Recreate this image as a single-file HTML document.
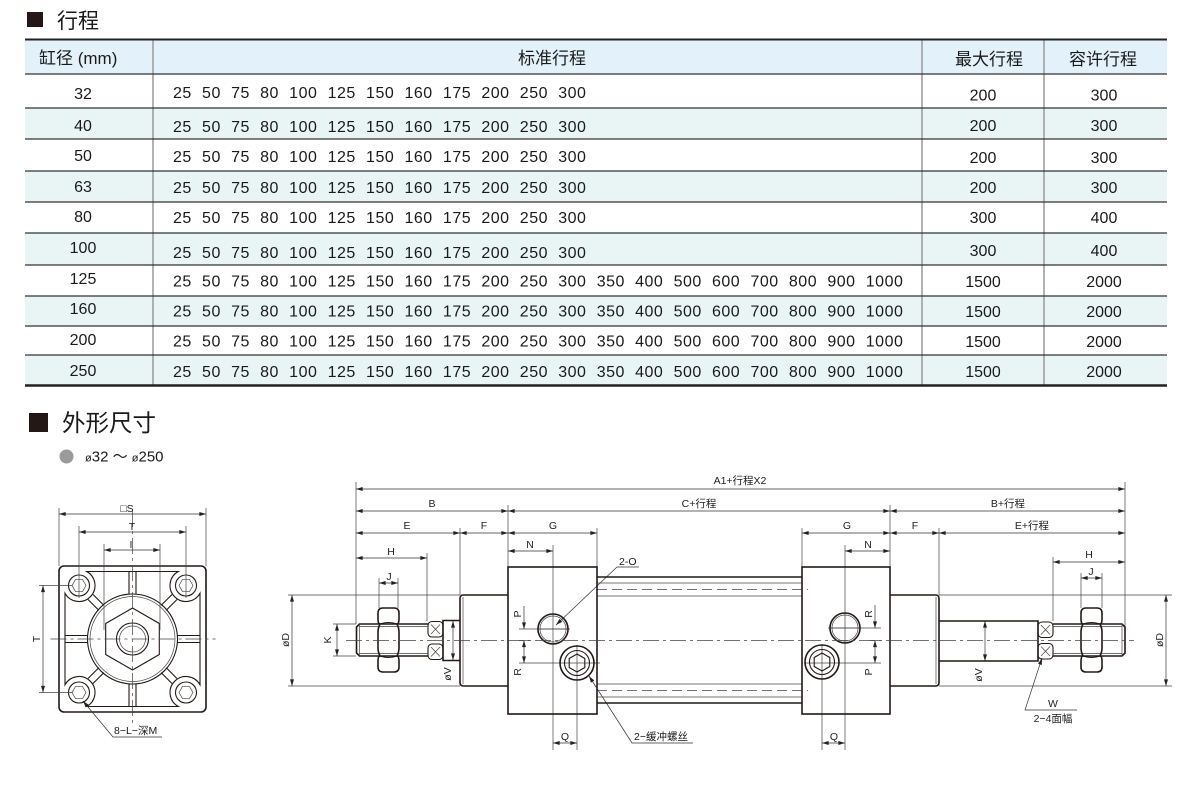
<!DOCTYPE html>
<html><head><meta charset="utf-8">
<style>
html,body{margin:0;padding:0;background:#fff;}
svg{display:block;}
text{font-family:"Liberation Sans","Noto Sans CJK SC",sans-serif;fill:#1a1a1a;}
.n{font-size:16px;letter-spacing:0.5px;word-spacing:5.3px;}
.c{font-size:16px;text-anchor:middle;}
.h{font-size:17px;}
.l{font-size:10.5px;text-anchor:middle;fill:#222;}
.o{stroke:#231815;stroke-width:1.6;fill:none;}
.m{stroke:#231815;stroke-width:1.1;fill:none;}
.t{stroke:#444;stroke-width:0.7;fill:none;}
.d{stroke:#333;stroke-width:0.7;fill:none;}
.cl{stroke:#444;stroke-width:0.7;fill:none;stroke-dasharray:16 4 3 4;}
.ds{stroke:#444;stroke-width:0.7;fill:none;stroke-dasharray:10 5;}
</style></head><body>
<svg width="1200" height="785" viewBox="0 0 1200 785" xmlns="http://www.w3.org/2000/svg">
<defs>
<marker id="a" viewBox="0 0 10 6" refX="10" refY="3" markerWidth="7" markerHeight="4" orient="auto-start-reverse" markerUnits="userSpaceOnUse">
<path d="M0,0 L10,3 L0,6 z" fill="#222"/>
</marker>
</defs>

<!-- ===== Title 1 ===== -->
<rect x="27" y="12" width="16" height="15" fill="#231815"/>
<text x="57" y="28" style="font-size:21px">行程</text>

<!-- ===== Table ===== -->
<rect x="25" y="40" width="1142" height="34" fill="#e3f2fa"/>
<rect x="25" y="108" width="1142" height="31" fill="#e8f5f4"/>
<rect x="25" y="171" width="1142" height="31" fill="#e8f5f4"/>
<rect x="25" y="233" width="1142" height="32" fill="#e8f5f4"/>
<rect x="25" y="296" width="1142" height="30" fill="#e8f5f4"/>
<rect x="25" y="355" width="1142" height="30" fill="#e8f5f4"/>

<g stroke="#999" stroke-width="1.5">
<line x1="153" y1="40" x2="153" y2="385"/>
<line x1="922" y1="40" x2="922" y2="385"/>
<line x1="1044" y1="40" x2="1044" y2="385"/>
</g>
<line x1="25" y1="39.5" x2="1167" y2="39.5" stroke="#222" stroke-width="2"/>
<g stroke="#333" stroke-width="1.3">
<line x1="25" y1="74" x2="1167" y2="74"/>
<line x1="25" y1="108" x2="1167" y2="108"/>
<line x1="25" y1="139" x2="1167" y2="139"/>
<line x1="25" y1="171" x2="1167" y2="171"/>
<line x1="25" y1="202" x2="1167" y2="202"/>
<line x1="25" y1="233" x2="1167" y2="233"/>
<line x1="25" y1="265" x2="1167" y2="265"/>
<line x1="25" y1="296" x2="1167" y2="296"/>
<line x1="25" y1="326" x2="1167" y2="326"/>
<line x1="25" y1="355" x2="1167" y2="355"/>
</g>
<line x1="25" y1="385.5" x2="1167" y2="385.5" stroke="#222" stroke-width="2.5"/>

<text class="h" x="39" y="64">缸径 (mm)</text>
<text class="h" x="552" y="64" text-anchor="middle">标准行程</text>
<text class="h" x="989" y="65" text-anchor="middle">最大行程</text>
<text class="h" x="1103" y="65" text-anchor="middle">容许行程</text>

<text class="c" x="83" y="99">32</text>
<text class="c" x="83" y="131">40</text>
<text class="c" x="83" y="161">50</text>
<text class="c" x="83" y="192">63</text>
<text class="c" x="83" y="222">80</text>
<text class="c" x="83" y="253">100</text>
<text class="c" x="83" y="284">125</text>
<text class="c" x="83" y="314">160</text>
<text class="c" x="83" y="345">200</text>
<text class="c" x="83" y="376">250</text>

<text class="n" x="173" y="98">25 50 75 80 100 125 150 160 175 200 250 300</text>
<text class="n" x="173" y="132">25 50 75 80 100 125 150 160 175 200 250 300</text>
<text class="n" x="173" y="162">25 50 75 80 100 125 150 160 175 200 250 300</text>
<text class="n" x="173" y="193">25 50 75 80 100 125 150 160 175 200 250 300</text>
<text class="n" x="173" y="223">25 50 75 80 100 125 150 160 175 200 250 300</text>
<text class="n" x="173" y="258">25 50 75 80 100 125 150 160 175 200 250 300</text>
<text class="n" x="173" y="286.5">25 50 75 80 100 125 150 160 175 200 250 300 350 400 500 600 700 800 900 1000</text>
<text class="n" x="173" y="316.5">25 50 75 80 100 125 150 160 175 200 250 300 350 400 500 600 700 800 900 1000</text>
<text class="n" x="173" y="346.5">25 50 75 80 100 125 150 160 175 200 250 300 350 400 500 600 700 800 900 1000</text>
<text class="n" x="173" y="377">25 50 75 80 100 125 150 160 175 200 250 300 350 400 500 600 700 800 900 1000</text>

<g class="c">
<text class="c" x="983" y="100.5">200</text><text class="c" x="1104" y="100.5">300</text>
<text class="c" x="983" y="131">200</text><text class="c" x="1104" y="131">300</text>
<text class="c" x="983" y="163">200</text><text class="c" x="1104" y="163">300</text>
<text class="c" x="983" y="193">200</text><text class="c" x="1104" y="193">300</text>
<text class="c" x="983" y="223">300</text><text class="c" x="1104" y="223">400</text>
<text class="c" x="983" y="256">300</text><text class="c" x="1104" y="256">400</text>
<text class="c" x="983" y="287">1500</text><text class="c" x="1104" y="287">2000</text>
<text class="c" x="983" y="317">1500</text><text class="c" x="1104" y="317">2000</text>
<text class="c" x="983" y="347">1500</text><text class="c" x="1104" y="347">2000</text>
<text class="c" x="983" y="377">1500</text><text class="c" x="1104" y="377">2000</text>
</g>

<!-- ===== Title 2 ===== -->
<rect x="29" y="413" width="19" height="19" fill="#231815"/>
<text x="62" y="431" style="font-size:23.5px">外形尺寸</text>
<circle cx="66.5" cy="456.5" r="7" fill="#9a9a9a"/>
<text x="85" y="461.5" style="font-size:15px"><tspan style="font-size:11px">ø</tspan>32 ～ <tspan style="font-size:11px">ø</tspan>250</text>

<!-- ===== Left end view ===== -->
<g transform="translate(132.5,639)">
<rect x="-73.5" y="-73" width="147" height="146" rx="5" class="o" stroke-width="2"/>
<path class="m" d="M -45.75,-67.5 L 45.75,-67.5 A16 16 0 1 0 67.5,-45.75 L 67.5,45.75 A16 16 0 1 0 45.75,67.5 L -45.75,67.5 A16 16 0 1 0 -67.5,45.75 L -67.5,-45.75 A16 16 0 1 0 -45.75,-67.5 Z"/>
<g class="m">
<circle cx="-53.5" cy="-53.5" r="10.5"/><circle cx="53.5" cy="-53.5" r="10.5"/>
<circle cx="-53.5" cy="53.5" r="10.5"/><circle cx="53.5" cy="53.5" r="10.5"/>
</g>
<g class="t" stroke-width="0.9">
<polygon transform="translate(-53.5,-53.5)" points="7,0 3.5,6.06 -3.5,6.06 -7,0 -3.5,-6.06 3.5,-6.06"/>
<polygon transform="translate(53.5,-53.5)" points="7,0 3.5,6.06 -3.5,6.06 -7,0 -3.5,-6.06 3.5,-6.06"/>
<polygon transform="translate(-53.5,53.5)" points="7,0 3.5,6.06 -3.5,6.06 -7,0 -3.5,-6.06 3.5,-6.06"/>
<polygon transform="translate(53.5,53.5)" points="7,0 3.5,6.06 -3.5,6.06 -7,0 -3.5,-6.06 3.5,-6.06"/>
</g>
<circle r="45" class="m"/>
<circle r="42.5" class="t"/>
<polygon class="m" points="0,-31 26.8,-15.5 26.8,15.5 0,31 -26.8,15.5 -26.8,-15.5"/>
<circle r="16" class="m"/>
<circle r="13" class="t"/>
<g class="m" stroke-width="0.9">
<line x1="-3.5" y1="-67.5" x2="-3.5" y2="-45"/><line x1="3.5" y1="-67.5" x2="3.5" y2="-45"/>
<line x1="-3.5" y1="67.5" x2="-3.5" y2="45"/><line x1="3.5" y1="67.5" x2="3.5" y2="45"/>
<line y1="-3.5" x1="-67.5" y2="-3.5" x2="-45"/><line y1="3.5" x1="-67.5" y2="3.5" x2="-45"/>
<line y1="-3.5" x1="67.5" y2="-3.5" x2="45"/><line y1="3.5" x1="67.5" y2="3.5" x2="45"/>
<line x1="-28.6" y1="-33.6" x2="-39.5" y2="-44.5"/><line x1="-33.6" y1="-28.6" x2="-44.5" y2="-39.5"/>
<line x1="28.6" y1="-33.6" x2="39.5" y2="-44.5"/><line x1="33.6" y1="-28.6" x2="44.5" y2="-39.5"/>
<line x1="-28.6" y1="33.6" x2="-39.5" y2="44.5"/><line x1="-33.6" y1="28.6" x2="-44.5" y2="39.5"/>
<line x1="28.6" y1="33.6" x2="39.5" y2="44.5"/><line x1="33.6" y1="28.6" x2="44.5" y2="39.5"/>
</g>
<line class="cl" x1="-82" y1="0" x2="83" y2="0"/>
<line class="cl" x1="0" y1="-128" x2="0" y2="84"/>
</g>
<!-- left view dims -->
<g class="t">
<line x1="59" y1="508" x2="59" y2="566"/><line x1="206" y1="508" x2="206" y2="566"/>
<line x1="79" y1="526" x2="79" y2="598"/><line x1="186" y1="526" x2="186" y2="598"/>
<line x1="104" y1="544" x2="104" y2="630"/><line x1="160" y1="544" x2="160" y2="630"/>
<line x1="39" y1="585.5" x2="72" y2="585.5"/><line x1="39" y1="692.5" x2="72" y2="692.5"/>
</g>
<g class="d">
<line x1="59" y1="514" x2="206" y2="514" marker-start="url(#a)" marker-end="url(#a)"/>
<line x1="79" y1="532" x2="186" y2="532" marker-start="url(#a)" marker-end="url(#a)"/>
<line x1="104" y1="550" x2="160" y2="550" marker-start="url(#a)" marker-end="url(#a)"/>
<line x1="43" y1="585.5" x2="43" y2="692.5" marker-start="url(#a)" marker-end="url(#a)"/>
<polyline points="83,701 113,737 162,737" marker-start="url(#a)"/>
</g>
<text class="l" x="127" y="512">□S</text>
<text class="l" x="132" y="530">T</text>
<text class="l" x="131" y="548">I</text>
<text class="l" transform="translate(40,639) rotate(-90)">T</text>
<text x="114" y="734" style="font-size:10.5px">8−L−深M</text>

<!-- ===== Main side view ===== -->
<!-- extension lines -->
<g class="t">
<line x1="356" y1="482" x2="356" y2="624"/>
<line x1="508" y1="505" x2="508" y2="567"/>
<line x1="460" y1="528" x2="460" y2="595"/>
<line x1="597" y1="528" x2="597" y2="567"/>
<line x1="427" y1="553" x2="427" y2="621"/>
<line x1="379" y1="578" x2="379" y2="608"/><line x1="398" y1="578" x2="398" y2="608"/>
<line x1="553" y1="545" x2="553" y2="750"/>
<line x1="577" y1="645" x2="577" y2="750"/>
<line x1="802" y1="528" x2="802" y2="567"/>
<line x1="890" y1="505" x2="890" y2="567"/>
<line x1="845" y1="545" x2="845" y2="750"/>
<line x1="822" y1="645" x2="822" y2="750"/>
<line x1="939" y1="528" x2="939" y2="595"/>
<line x1="1053" y1="557" x2="1053" y2="621"/>
<line x1="1081" y1="573" x2="1081" y2="608"/><line x1="1102" y1="573" x2="1102" y2="608"/>
<line x1="1125" y1="482" x2="1125" y2="640"/>
<line x1="288" y1="595" x2="460" y2="595"/><line x1="288" y1="686" x2="460" y2="686"/>
<line x1="939" y1="595" x2="1172" y2="595"/><line x1="939" y1="686" x2="1172" y2="686"/>
<line x1="333" y1="624" x2="356" y2="624"/><line x1="333" y1="656" x2="356" y2="656"/>
<line x1="519" y1="629" x2="570" y2="629"/><line x1="519" y1="663" x2="600" y2="663"/>
<line x1="828" y1="628" x2="881" y2="628"/><line x1="805" y1="663" x2="881" y2="663"/>
<line x1="519" y1="640.5" x2="530" y2="640.5"/><line x1="870" y1="640.5" x2="881" y2="640.5"/>
</g>

<!-- dimension lines -->
<g class="d">
<line x1="356" y1="489" x2="1125" y2="489" marker-start="url(#a)" marker-end="url(#a)"/>
<line x1="356" y1="511" x2="508" y2="511" marker-start="url(#a)" marker-end="url(#a)"/>
<line x1="508" y1="511" x2="890" y2="511" marker-start="url(#a)" marker-end="url(#a)"/>
<line x1="890" y1="511" x2="1125" y2="511" marker-start="url(#a)" marker-end="url(#a)"/>
<line x1="356" y1="533" x2="460" y2="533" marker-start="url(#a)" marker-end="url(#a)"/>
<line x1="460" y1="533" x2="508" y2="533" marker-start="url(#a)" marker-end="url(#a)"/>
<line x1="508" y1="533" x2="597" y2="533" marker-start="url(#a)" marker-end="url(#a)"/>
<line x1="802" y1="533" x2="890" y2="533" marker-start="url(#a)" marker-end="url(#a)"/>
<line x1="890" y1="533" x2="939" y2="533" marker-start="url(#a)" marker-end="url(#a)"/>
<line x1="939" y1="533" x2="1125" y2="533" marker-start="url(#a)" marker-end="url(#a)"/>
<line x1="508" y1="551" x2="553" y2="551" marker-start="url(#a)" marker-end="url(#a)"/>
<line x1="845" y1="551" x2="890" y2="551" marker-start="url(#a)" marker-end="url(#a)"/>
<line x1="356" y1="558" x2="427" y2="558" marker-start="url(#a)" marker-end="url(#a)"/>
<line x1="1053" y1="562" x2="1125" y2="562" marker-start="url(#a)" marker-end="url(#a)"/>
<line x1="379" y1="583" x2="398" y2="583" marker-start="url(#a)" marker-end="url(#a)"/>
<line x1="1081" y1="578" x2="1102" y2="578" marker-start="url(#a)" marker-end="url(#a)"/>
<line x1="337" y1="624" x2="337" y2="656" marker-start="url(#a)" marker-end="url(#a)"/>
<line x1="292" y1="595" x2="292" y2="686" marker-start="url(#a)" marker-end="url(#a)"/>
<line x1="1166" y1="595" x2="1166" y2="686" marker-start="url(#a)" marker-end="url(#a)"/>
<line x1="453" y1="621" x2="453" y2="660" marker-start="url(#a)" marker-end="url(#a)"/>
<line x1="985" y1="621" x2="985" y2="661" marker-start="url(#a)" marker-end="url(#a)"/>
<line x1="524" y1="606" x2="524" y2="629" marker-end="url(#a)"/>
<line x1="524" y1="640.5" x2="524" y2="663" marker-start="url(#a)" marker-end="url(#a)"/>
<line x1="875" y1="605" x2="875" y2="628" marker-end="url(#a)"/>
<line x1="875" y1="640.5" x2="875" y2="663" marker-start="url(#a)" marker-end="url(#a)"/>
<line x1="553" y1="743" x2="577" y2="743" marker-start="url(#a)" marker-end="url(#a)"/>
<line x1="822" y1="743" x2="845" y2="743" marker-start="url(#a)" marker-end="url(#a)"/>
<polyline points="556,625 617,567 639,567" marker-start="url(#a)"/>
<polyline points="589,676 632,743 693,743" marker-start="url(#a)"/>
<polyline points="1042,658 1025,710 1077,710" marker-start="url(#a)"/>
</g>

<!-- dim labels -->
<text class="l" x="740" y="484">A1+行程X2</text>
<text class="l" x="432" y="507">B</text>
<text class="l" x="699" y="507">C+行程</text>
<text class="l" x="1008" y="507">B+行程</text>
<text class="l" x="407" y="529">E</text>
<text class="l" x="484" y="529">F</text>
<text class="l" x="553" y="529">G</text>
<text class="l" x="847" y="529">G</text>
<text class="l" x="915" y="529">F</text>
<text class="l" x="1032" y="529">E+行程</text>
<text class="l" x="530" y="548">N</text>
<text class="l" x="868" y="548">N</text>
<text class="l" x="391" y="555">H</text>
<text class="l" x="1089" y="558">H</text>
<text class="l" x="389" y="580">J</text>
<text class="l" x="1091" y="575">J</text>
<text class="l" transform="translate(331,640) rotate(-90)">K</text>
<text class="l" transform="translate(289,640) rotate(-90)">øD</text>
<text class="l" transform="translate(1163,640) rotate(-90)">øD</text>
<text class="l" transform="translate(451,674) rotate(-90)">øV</text>
<text class="l" transform="translate(982,675) rotate(-90)">øV</text>
<text class="l" transform="translate(521,614) rotate(-90)">P</text>
<text class="l" transform="translate(521,672) rotate(-90)">R</text>
<text class="l" transform="translate(872,614) rotate(-90)">R</text>
<text class="l" transform="translate(872,672) rotate(-90)">P</text>
<text class="l" x="565" y="740">Q</text>
<text class="l" x="834" y="740">Q</text>
<text x="619" y="565" style="font-size:10.5px">2-O</text>
<text x="634" y="740" style="font-size:10.5px">2−缓冲螺丝</text>
<text class="l" x="1053" y="707">W</text>
<text class="l" x="1053" y="722">2−4面幅</text>

<!-- tube -->
<g>
<line class="o" x1="597" y1="577" x2="802" y2="577"/>
<line class="t" x1="597" y1="583" x2="802" y2="583"/>
<line class="ds" x1="597" y1="589.5" x2="808" y2="589.5"/>
<line class="t" x1="597" y1="596" x2="802" y2="596"/>
<line class="t" x1="597" y1="684" x2="802" y2="684"/>
<line class="ds" x1="597" y1="690.5" x2="808" y2="690.5"/>
<line class="t" x1="597" y1="697" x2="802" y2="697"/>
<line class="o" x1="597" y1="703" x2="802" y2="703"/>
</g>

<!-- blocks -->
<rect class="o" x="508" y="567" width="89" height="147"/>
<rect class="o" x="802" y="567" width="88" height="147"/>

<!-- covers -->
<path class="o" d="M508,595 L463.5,595 Q460,595 460,598.5 L460,682.5 Q460,686 463.5,686 L508,686"/>
<line class="t" x1="463" y1="597" x2="463" y2="684"/>
<path class="o" d="M890,595 L935.5,595 Q939,595 939,598.5 L939,682.5 Q939,686 935.5,686 L890,686"/>
<line class="t" x1="936" y1="597" x2="936" y2="684"/>

<!-- left rod -->
<path class="o" d="M460,620.5 L443,620.5 L443,660.5 L460,660.5"/>
<rect class="m" x="428" y="621.5" width="15" height="15.5" rx="4"/>
<rect class="m" x="428" y="644" width="15" height="15.5" rx="4"/>
<g class="t" stroke-width="0.8">
<line x1="431" y1="624.5" x2="440" y2="634"/><line x1="440" y1="624.5" x2="431" y2="634"/>
<line x1="431" y1="647" x2="440" y2="656.5"/><line x1="440" y1="647" x2="431" y2="656.5"/>
</g>
<path class="o" d="M428,624 L359.5,624 L356.5,627 L356.5,653 L359.5,656 L428,656"/>
<line class="t" x1="359.5" y1="626.5" x2="428" y2="626.5"/>
<line class="t" x1="359.5" y1="653.5" x2="428" y2="653.5"/>
<line class="t" x1="359.5" y1="624" x2="359.5" y2="656"/>
<!-- left nut -->
<path class="o" fill="#fff" d="M383,608 L394,608 Q399,608 399,613 L399,619 Q399,624 397,624 Q399,628 399,632 L399,648 Q399,652 397,656 Q399,656 399,661 L399,667 Q399,672 394,672 L383,672 Q378,672 378,667 L378,661 Q378,656 380,656 Q378,652 378,648 L378,632 Q378,628 380,624 Q378,624 378,619 L378,613 Q378,608 383,608 Z"/>
<path class="m" d="M380,624 Q388.5,621 397,624 M380,656 Q388.5,659 397,656"/>

<!-- right rod -->
<path class="o" d="M939,621 L1038,621 L1038,661 L939,661"/>
<rect class="m" x="1038" y="622" width="15" height="15.5" rx="4"/>
<rect class="m" x="1038" y="643.5" width="15" height="15.5" rx="4"/>
<g class="t" stroke-width="0.8">
<line x1="1041" y1="625" x2="1050" y2="634.5"/><line x1="1050" y1="625" x2="1041" y2="634.5"/>
<line x1="1041" y1="646.5" x2="1050" y2="656"/><line x1="1050" y1="646.5" x2="1041" y2="656"/>
</g>
<path class="o" d="M1053,624 L1122,624 L1125,627 L1125,653 L1122,656 L1053,656"/>
<line class="t" x1="1053" y1="626.5" x2="1122" y2="626.5"/>
<line class="t" x1="1053" y1="653.5" x2="1122" y2="653.5"/>
<line class="t" x1="1122" y1="624" x2="1122" y2="656"/>
<!-- right nut -->
<path class="o" fill="#fff" d="M1086,608 L1097,608 Q1102,608 1102,613 L1102,619 Q1102,624 1100,624 Q1102,628 1102,632 L1102,648 Q1102,652 1100,656 Q1102,656 1102,661 L1102,667 Q1102,672 1097,672 L1086,672 Q1081,672 1081,667 L1081,661 Q1081,656 1083,656 Q1081,652 1081,648 L1081,632 Q1081,628 1083,624 Q1081,624 1081,619 L1081,613 Q1081,608 1086,608 Z"/>
<path class="m" d="M1083,624 Q1091.5,621 1100,624 M1083,656 Q1091.5,659 1100,656"/>

<!-- ports -->
<circle class="o" cx="553" cy="629" r="15"/>
<circle class="t" cx="553" cy="629" r="13"/>
<circle class="o" cx="845" cy="628" r="15"/>
<circle class="t" cx="845" cy="628" r="13"/>
<!-- cushion screws -->
<g transform="translate(577,663)">
<circle class="o" r="17"/><circle class="m" r="12.5"/>
<polygon class="m" points="0,-9 7.8,-4.5 7.8,4.5 0,9 -7.8,4.5 -7.8,-4.5"/>
</g>
<g transform="translate(822,662)">
<circle class="o" r="17"/><circle class="m" r="12.5"/>
<polygon class="m" points="0,-9 7.8,-4.5 7.8,4.5 0,9 -7.8,4.5 -7.8,-4.5"/>
</g>
<g class="t">
<line x1="538" y1="629" x2="568" y2="629"/>
<line x1="830" y1="628" x2="860" y2="628"/>
</g>

<!-- center line -->
<line class="cl" x1="346" y1="640.5" x2="1134" y2="640.5"/>
</svg>
</body></html>
